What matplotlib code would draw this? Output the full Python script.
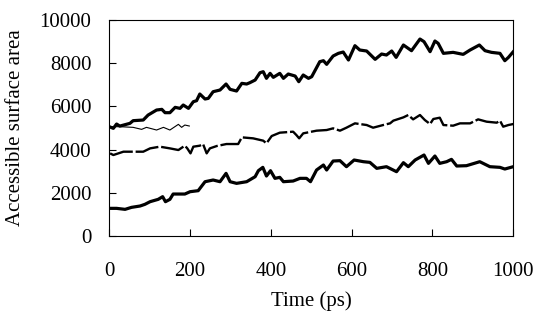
import numpy as np
import matplotlib
matplotlib.use("Agg")
import matplotlib.pyplot as plt

plt.rcParams['font.family'] = ['Liberation Serif', 'DejaVu Serif']

# upper curve (thick)
t_top = [0, 10, 18, 26, 51, 59, 84, 96, 117, 130, 138, 150, 163, 175, 183, 196,
         208, 216, 224, 237, 245, 257, 274, 289, 299, 315, 328, 340, 348, 361,
         373, 381, 389, 398, 406, 422, 431, 443, 460, 469, 480, 493, 501, 521,
         530, 538, 554, 567, 579, 592, 608, 620, 637, 658, 674, 686, 699, 710,
         728, 748, 769, 779, 794, 806, 814, 827, 851, 876, 893, 916, 930, 946,
         967, 979, 988, 1000]
v_top = [5062, 4985, 5185, 5090, 5216, 5340, 5370, 5600, 5833, 5864, 5710, 5710,
         5957, 5910, 6065, 5910, 6219, 6265, 6574, 6343, 6373, 6682, 6759, 7037,
         6790, 6713, 7068, 7037, 7099, 7222, 7562, 7608, 7300, 7531, 7346, 7531,
         7300, 7500, 7407, 7145, 7454, 7300, 7376, 8071, 8117, 7948, 8333, 8457,
         8518, 8148, 8812, 8611, 8565, 8179, 8426, 8380, 8565, 8271, 8843, 8580,
         9120, 8997, 8534, 9028, 8920, 8457, 8503, 8410, 8611, 8843, 8580, 8503,
         8457, 8117, 8271, 8534]

# short thin curve (0-200 ps)
t_short = [0, 26, 59, 80, 92, 117, 134, 150, 171, 179, 187, 198]
v_short = [5062, 5062, 5031, 4938, 5031, 4907, 5031, 4907, 5170, 5031, 5139, 5093]

# middle curve (dashed)
t_mid = [2, 10, 35, 59, 84, 101, 125, 150, 171, 187, 193, 201, 208, 224, 232,
         241, 249, 266, 290, 319, 328, 356, 381, 389, 402, 422, 455, 463, 470,
         480, 513, 538, 554, 571, 587, 608, 637, 653, 678, 695, 703, 728, 740,
         752, 769, 781, 794, 802, 818, 827, 851, 868, 893, 913, 934, 959, 967,
         975, 988, 1000]
v_mid = [3827, 3750, 3904, 3904, 3904, 4058, 4136, 4058, 3981, 4182, 4058, 3827,
         4136, 4182, 4259, 3827, 4058, 4167, 4259, 4259, 4568, 4522, 4414, 4290,
         4630, 4784, 4830, 4676, 4522, 4753, 4877, 4907, 4985, 4877, 5015, 5216,
         5139, 5015, 5139, 5216, 5340, 5494, 5602, 5401, 5602, 5370, 5185, 5417,
         5478, 5139, 5108, 5216, 5216, 5401, 5293, 5247, 5340, 5062, 5139, 5185]

# lower curve (thick)
t_low = [0, 18, 39, 55, 76, 88, 101, 121, 132, 139, 150, 158, 187, 200, 220,
         237, 257, 274, 289, 299, 315, 340, 361, 369, 380, 389, 399, 410, 422,
         431, 455, 472, 488, 498, 513, 530, 538, 554, 571, 587, 606, 629, 645,
         662, 686, 711, 728, 740, 757, 779, 790, 806, 818, 835, 847, 860, 884,
         917, 942, 967, 979, 1000]
v_low = [1281, 1281, 1235, 1327, 1389, 1466, 1590, 1698, 1821, 1590, 1698, 1944,
         1944, 2052, 2099, 2515, 2593, 2515, 2901, 2515, 2438, 2515, 2747, 3025,
         3179, 2778, 3025, 2670, 2716, 2515, 2546, 2670, 2670, 2515, 3056, 3287,
         3056, 3472, 3488, 3210, 3519, 3441, 3410, 3133, 3210, 2978, 3395, 3210,
         3519, 3750, 3364, 3704, 3364, 3441, 3549, 3241, 3256, 3441, 3210, 3179,
         3102, 3210]

fig = plt.figure(figsize=(5.43, 3.26), dpi=100)
ax = fig.add_axes([0.2013, 0.276, 0.744, 0.6626])

ax.plot(t_top, v_top, color='black', lw=2.3, solid_joinstyle='round')
ax.plot(t_short, v_short, color='black', lw=0.8)
ax.plot(t_mid, v_mid, color='black', lw=1.7, dashes=(10, 1.2))
ax.plot(t_low, v_low, color='black', lw=2.3, solid_joinstyle='round')

ax.set_xlim(0, 1000)
ax.set_ylim(0, 10000)
ax.set_xticks([0, 200, 400, 600, 800, 1000])
ax.set_yticks([0, 2000, 4000, 6000, 8000, 10000])
ax.tick_params(direction='in', length=5, width=0.8, labelsize=15,
               top=False, right=False)
ax.tick_params(axis='x', pad=19)
ax.tick_params(axis='y', pad=13)
for s in ax.spines.values():
    s.set_linewidth(0.8)

ax.set_xlabel("Time (ps)", fontsize=15, labelpad=7)
ax.set_ylabel("Accessible surface area", fontsize=15, labelpad=10)

fig.savefig("out.png", dpi=100)
